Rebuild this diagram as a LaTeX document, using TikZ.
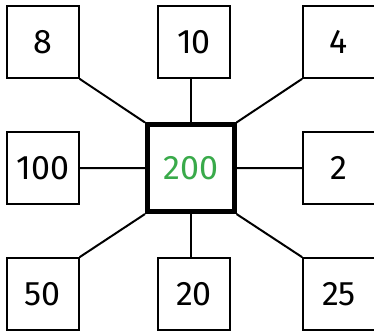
\documentclass[tikz,border=0pt]{standalone}
\usepackage{fontspec}
\setmainfont{Fira Sans}
\usepackage{tikz}
\usepackage{xcolor}
\definecolor{hubgreen}{RGB}{57,170,74}

\begin{document}
\begin{tikzpicture}[x=0.03cm,y=-0.03cm,
  numbox/.style={draw,line width=1.7pt,minimum size=2.15cm,inner sep=0pt,font=\fontsize{29}{32}\selectfont},
  hubbox/.style={draw,line width=4.2pt,minimum size=2.6cm,inner sep=0pt,text=hubgreen,font=\fontsize{29}{32}\selectfont},
  link/.style={line width=1.7pt}]
  \useasboundingbox (0,0) rectangle (374,333);
  \node[hubbox] (hub) at (190.75,168.25) {200};
  \node[numbox] (tl) at (42.75,42) {8};
  \node[numbox] (tm) at (194,42) {10};
  \node[numbox] (tr) at (339,42) {4};
  \node[numbox] (ml) at (42.75,168) {100};
  \node[numbox] (mr) at (339,168) {2};
  \node[numbox] (bl) at (42.75,294) {50};
  \node[numbox] (bm) at (194,294) {20};
  \node[numbox] (br) at (339,294) {25};
  \draw[link] (tl.south east) -- (hub.north west);
  \draw[link] (hub.north) -- (hub.north |- tm.south);
  \draw[link] (tr.south west) -- (hub.north east);
  \draw[link] (ml) -- (hub);
  \draw[link] (hub) -- (mr);
  \draw[link] (bl.north east) -- (hub.south west);
  \draw[link] (hub.south) -- (hub.south |- bm.north);
  \draw[link] (br.north west) -- (hub.south east);
\end{tikzpicture}
\end{document}
